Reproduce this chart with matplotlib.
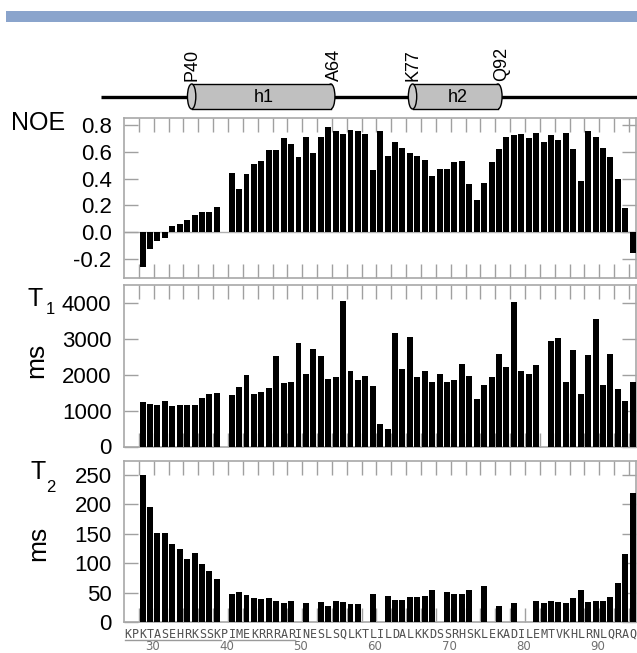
import matplotlib
matplotlib.use('Agg')
import matplotlib.pyplot as plt
from matplotlib.patches import Ellipse, Rectangle

plt.rcParams['font.family'] = ['Liberation Sans', 'DejaVu Sans']

# sequence 27-95
sequence = 'KPKTASEHRKSSKPIMEKRRRARINESLSQLKTLILDALKKDSSRHSKLEKADILEMTVKHLRNLQRAQ'
first_res = 27
residues = list(range(29, 96))
seq_ticks = [30, 40, 50, 60, 70, 80, 90]
underlined = [(27, 39), (41, 49)]

helix_start = [40, 77]
helix_end = [64, 92]
helix_name = ['h1', 'h2']

noe = [-0.26, -0.125, -0.067, -0.042, 0.05, 0.062, 0.092, 0.132, 0.15, 0.15,
       0.19, None, 0.44, 0.32, 0.43, 0.51, 0.53, 0.61, 0.61, 0.70,
       0.66, 0.56, 0.71, 0.59, 0.71, 0.78, 0.75, 0.73, 0.76, 0.75,
       0.73, 0.46, 0.75, 0.57, 0.67, 0.63, 0.59, 0.57, 0.54, 0.42,
       0.47, 0.47, 0.52, 0.53, 0.36, 0.24, 0.37, 0.52, 0.62, 0.71,
       0.72, 0.73, 0.70, 0.74, 0.67, 0.72, 0.69, 0.74, 0.62, 0.38,
       0.75, 0.71, 0.63, 0.56, 0.40, 0.18, -0.155]

t1 = [1234, 1178, 1169, 1280, 1141, 1159, 1169, 1150, 1345, 1457,
      1504, None, 1439, 1653, 2007, 1476, 1513, 1643, 2537, 1764,
      1802, 2891, 2035, 2710, 2540, 1876, 1932, 4055, 2100, 1858,
      1979, 1690, 619, 489, 3161, 2156, 3068, 1951, 2118, 1802,
      2016, 1811, 1858, 2295, 1969, 1318, 1718, 1951, 2584, 2230,
      4046, 2100, 2025, 2277, None, 2956, 3021, 1811, 2686, 1467,
      2565, 3561, 1727, 2584, 1606, 1271, 1802]

t2 = [250, 196, 151, 151, 132, 124, 108, 118, 98, 86,
      73, None, 47, 51, 46, 40, 39, 41, 36, 32,
      35, None, 33, None, 34, 27, 35, 34, 31, 30,
      None, 47, None, 45, 37, 37, 43, 43, 45, 55,
      None, 51, 48, 47, 54, None, 62, None, 28, None,
      32, None, None, 36, 33, 36, 34, 33, 41, 55,
      34, 36, 36, 43, 66, 115, 220]

W, H = 637, 653
fig = plt.figure(figsize=(W / 100, H / 100), dpi=100)


def fx(x):
    return x / W


def fy(y):
    return 1 - y / H


# blue banner
fig.add_artist(Rectangle((fx(6), fy(22)), fx(631), 11 / H,
                         transform=fig.transFigure, color='#8aa4cc', lw=0))

# helix diagram
ax0 = fig.add_axes([0, fy(118), 1, 88 / H])
ax0.set_xlim(7.9, 114.6)
ax0.set_ylim(118, 30)
ax0.axis('off')
ax0.plot([24.8, 115], [97, 97], color='black', lw=2.4, solid_capstyle='butt', zorder=1)
w, yc, hh = 1.4, 96.5, 25
for r0, r1, name in zip(helix_start, helix_end, helix_name):
    ax0.add_patch(Ellipse((r1 - w / 2, yc), w, hh, fc='#c0c0c0', ec='black', lw=1, zorder=3))
    ax0.add_patch(Rectangle((r0, yc - hh / 2), r1 - w / 2 - r0, hh, fc='#c0c0c0',
                            ec='none', zorder=4))
    ax0.plot([r0, r1 - w / 2], [yc - hh / 2] * 2, color='black', lw=1, zorder=5)
    ax0.plot([r0, r1 - w / 2], [yc + hh / 2] * 2, color='black', lw=1, zorder=5)
    ax0.add_patch(Ellipse((r0, yc), w, hh, fc='#c8c8c8', ec='black', lw=1, zorder=6))
    ax0.text((r0 + r1) / 2, yc + 1.5, name, ha='center', va='center', fontsize=13, zorder=7)
    for r in (r0, r1):
        ax0.text(r, 81, sequence[r - first_res] + str(r), rotation=90,
                 ha='center', va='bottom', fontsize=13)


def panel(top, bot, values, yticks, ylim):
    ax = fig.add_axes([fx(124), fy(bot), fx(512), (bot - top) / H])
    xs = [r for r, v in zip(residues, values) if v is not None]
    ys = [v for v in values if v is not None]
    ax.bar(xs, ys, width=0.8, color='black', zorder=3)
    ax.set_xlim(26.5, 95.45)
    ax.set_ylim(*ylim)
    ax.set_xticks([x + 0.5 for x in range(28, 95, 2)])
    ax.set_yticks(yticks)
    ax.tick_params(axis='both', direction='in', length=10, width=1,
                   color='#a0a0a0', top=True, right=True, labelsize=16, pad=9)
    ax.tick_params(axis='x', labelbottom=False)
    for s in ax.spines.values():
        s.set_color('#a8a8a8')
        s.set_linewidth(1.2)
    return ax


ax1 = panel(118, 278, noe, [-0.2, 0.0, 0.2, 0.4, 0.6, 0.8], (-0.34, 0.85))
ax1.set_yticklabels(['-0.2', '0.0', '0.2', '0.4', '0.6', '0.8'])
ax1.axhline(0, color='#b0b0b0', lw=1, zorder=1)
ax2 = panel(285, 446.5, t1, [0, 1000, 2000, 3000, 4000], (0, 4510))
ax3 = panel(461, 622, t2, [0, 50, 100, 150, 200, 250], (0, 274))

# panel labels
fig.text(fx(38), fy(123), 'NOE', fontsize=18, ha='center', va='center')
fig.text(fx(35), fy(299), 'T', fontsize=18, ha='center', va='center')
fig.text(fx(50), fy(310), '1', fontsize=12, ha='center', va='center')
fig.text(fx(36), fy(360), 'ms', fontsize=19, rotation=90, ha='center', va='center')
fig.text(fx(38), fy(472), 'T', fontsize=18, ha='center', va='center')
fig.text(fx(51), fy(487), '2', fontsize=12, ha='center', va='center')
fig.text(fx(38), fy(543), 'ms', fontsize=19, rotation=90, ha='center', va='center')

# sequence under the T2 panel
tr = ax3.get_xaxis_transform()
for i, aa in enumerate(sequence):
    ax3.text(first_res + i + 0.05, -0.075, aa, transform=tr, ha='center', va='center',
             fontsize=8.5, family='DejaVu Sans Mono', color='#505050', clip_on=False)
for a, b in underlined:
    ax3.plot([a - 0.4, b + 0.5], [-0.112, -0.112], transform=tr, color='#9a9a9a',
             lw=1, clip_on=False)
for r in seq_ticks:
    ax3.text(r + 0.3, -0.15, str(r), transform=tr, ha='center', va='center',
             fontsize=8.5, family='DejaVu Sans', color='#707070', clip_on=False)

fig.savefig('out.png', dpi=100)
